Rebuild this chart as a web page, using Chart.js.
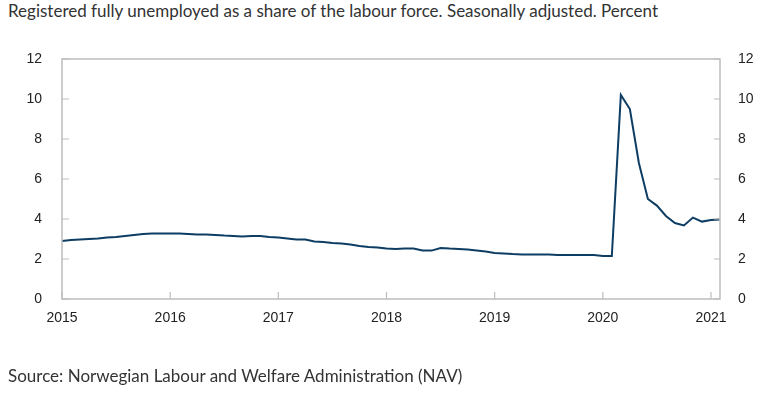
<!DOCTYPE html>
<html>
<head>
<meta charset="utf-8">
<script src="https://cdn.jsdelivr.net/npm/chart.js@4.4.0/dist/chart.umd.min.js"></script>
<style>
  html, body { margin: 0; padding: 0; background: #fff; }
  #wrap { position: relative; width: 758px; height: 393px; overflow: hidden; }
  #chart { position: absolute; left: 0; top: 0; }
  .note {
    position: absolute;
    left: 8px;
    font-family: Lato, 'Open Sans', sans-serif;
    font-size: 17px;
    color: #333;
    white-space: nowrap;
  }
  #title { top: 0px; }
  #source { top: 365px; }
</style>
</head>
<body>
<div id="wrap">
  <div id="title" class="note">Registered fully unemployed as a share of the labour force. Seasonally adjusted. Percent</div>
  <canvas id="chart" width="758" height="393"></canvas>
  <div id="source" class="note">Source: Norwegian Labour and Welfare Administration (NAV)</div>
</div>
<script>
const years = [2015, 2016, 2017, 2018, 2019, 2020, 2021];

const values2015 = [2.9, 2.95, 2.98, 3.0, 3.02, 3.07, 3.1, 3.15, 3.2, 3.25, 3.27, 3.28];
const values2016 = [3.28, 3.27, 3.25, 3.22, 3.22, 3.2, 3.17, 3.15, 3.12, 3.15, 3.15, 3.1];
const values2017 = [3.07, 3.03, 2.97, 2.97, 2.87, 2.85, 2.8, 2.77, 2.72, 2.65, 2.6, 2.58];
const values2018 = [2.52, 2.5, 2.52, 2.52, 2.43, 2.42, 2.55, 2.52, 2.5, 2.47, 2.42, 2.37];
const values2019 = [2.3, 2.28, 2.25, 2.23, 2.23, 2.22, 2.22, 2.2, 2.2, 2.2, 2.2, 2.2];
const values2020 = [2.15, 2.15, 10.2, 9.5, 6.8, 5.0, 4.67, 4.15, 3.8, 3.68, 4.07, 3.87];
const values2021 = [3.95, 3.98];

const yTicks = [0, 2, 4, 6, 8, 10, 12];

const LINE_COLOR = '#0d3d63';
const AXIS_COLOR = '#bdbdbd';
const TICK_COLOR = '#222';
const TICK_FONT = { family: 'Liberation Sans', size: 14 };

const allValues = [
  ...values2015, ...values2016, ...values2017, ...values2018,
  ...values2019, ...values2020, ...values2021,
];

const monthLabels = allValues.map((_v, i) => {
  const year = years[0] + Math.floor(i / 12);
  const month = (i % 12) + 1;
  return `${year}-${String(month).padStart(2, '0')}`;
});

// plot frame plus short tick marks drawn inward, the way the original has them
const frameAndTicks = {
  id: 'frameAndTicks',
  afterDatasetsDraw(chart) {
    const { ctx, chartArea: area, scales } = chart;
    ctx.save();
    ctx.strokeStyle = AXIS_COLOR;
    ctx.lineWidth = 1.5;
    ctx.strokeRect(area.left, area.top, area.right - area.left, area.bottom - area.top);

    ctx.lineWidth = 1.2;
    ctx.beginPath();
    yTicks.forEach((t) => {
      const y = scales.y.getPixelForValue(t);
      ctx.moveTo(area.left, y);
      ctx.lineTo(area.left + 7, y);
      ctx.moveTo(area.right, y);
      ctx.lineTo(area.right - 6, y);
    });
    monthLabels.forEach((label, i) => {
      if (label.endsWith('-01')) {
        const x = scales.x.getPixelForValue(i);
        ctx.moveTo(x, area.bottom);
        ctx.lineTo(x, area.bottom - 7);
      }
    });
    ctx.stroke();
    ctx.restore();
  },
};

function yAxis(position, padding, width) {
  return {
    type: 'linear',
    position: position,
    min: 0,
    max: 12,
    afterBuildTicks: (scale) => {
      scale.ticks = yTicks.map((v) => ({ value: v }));
    },
    afterFit: (scale) => {
      scale.width = width;
    },
    grid: { drawOnChartArea: false, drawTicks: false },
    border: { display: false },
    ticks: {
      padding: padding,
      color: TICK_COLOR,
      font: TICK_FONT,
    },
  };
}

const ctx = document.getElementById('chart').getContext('2d');

new Chart(ctx, {
  type: 'line',
  data: {
    labels: monthLabels,
    datasets: [
      {
        label: 'Registered fully unemployed',
        data: allValues,
        borderColor: LINE_COLOR,
        backgroundColor: LINE_COLOR,
        borderWidth: 2,
        pointRadius: 0,
        tension: 0,
        fill: false,
      },
    ],
  },
  options: {
    responsive: false,
    animation: false,
    layout: { padding: { top: 59, left: 0, right: 0, bottom: 0 } },
    plugins: {
      legend: { display: false },
      tooltip: { enabled: false },
    },
    scales: {
      x: {
        type: 'category',
        offset: false,
        afterFit: (scale) => {
          scale.height = 94;
        },
        grid: { drawOnChartArea: false, drawTicks: false },
        border: { display: false },
        ticks: {
          autoSkip: false,
          maxRotation: 0,
          padding: 11,
          color: TICK_COLOR,
          font: TICK_FONT,
          callback: function (_value, index) {
            const label = monthLabels[index];
            return label.endsWith('-01') ? label.slice(0, 4) : '';
          },
        },
      },
      y: yAxis('left', 20, 62),
      y2: yAxis('right', 18, 38),
    },
  },
  plugins: [frameAndTicks],
});
</script>
</body>
</html>
